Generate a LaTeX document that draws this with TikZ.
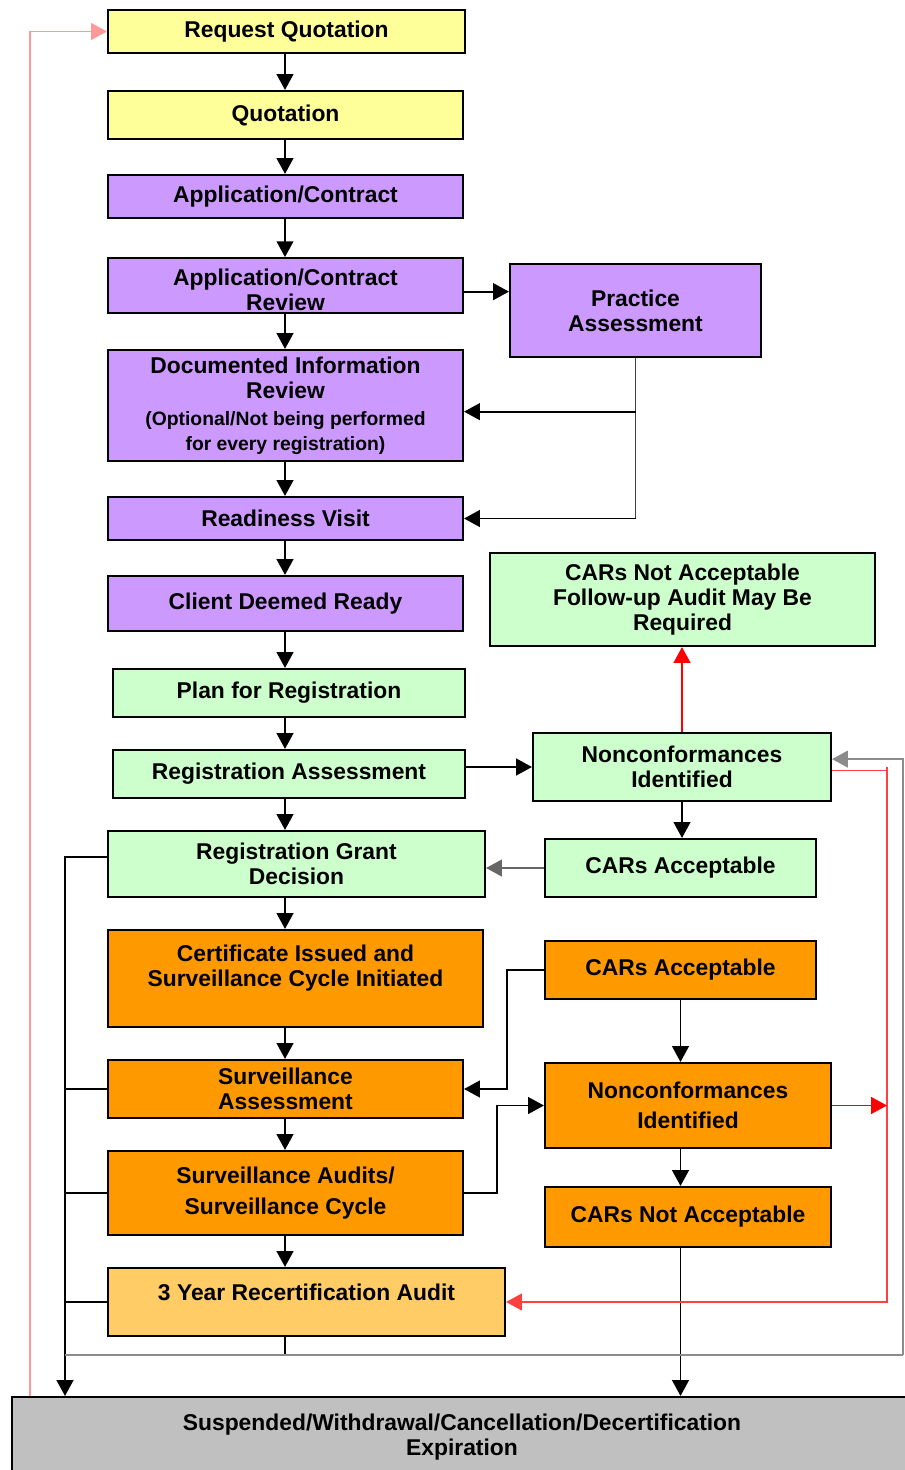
\documentclass[tikz,border=0pt]{standalone}
\usepackage{fontspec}
\setmainfont{Liberation Sans}
\usetikzlibrary{arrows.meta}

\definecolor{quoteyellow}{HTML}{FFFF99}
\definecolor{contractpurple}{HTML}{CC99FF}
\definecolor{regreen}{HTML}{CCFFCC}
\definecolor{survorange}{HTML}{FF9900}
\definecolor{recertorange}{HTML}{FFCC66}
\definecolor{endgray}{HTML}{C0C0C0}

\begin{document}
\begin{tikzpicture}[x=0.02cm, y=-0.02cm,
    box/.style={rectangle, draw, line width=1.2pt, align=center, inner sep=1pt,
        font=\bfseries\fontsize{13}{14.2}\selectfont},
    arrow/.style={-{Triangle[length=9pt, width=9.5pt]}, line width=1.1pt},
    plain/.style={line width=1.1pt},
    redarrow/.style={arrow, red},
    grayline/.style={line width=1.1pt, black!45}]

    \useasboundingbox (0,0) rectangle (904,1470);

    % main column
    \node[box, fill=quoteyellow, minimum width=7.14cm, minimum height=0.86cm] (rq) at (286.5,31.5) {Request Quotation};
    \node[box, fill=quoteyellow, minimum width=7.10cm, minimum height=0.96cm] (quo) at (285.5,115) {Quotation};
    \node[box, fill=contractpurple, minimum width=7.10cm, minimum height=0.86cm] (app) at (285.5,196.5) {Application/Contract};
    \node[box, fill=contractpurple, minimum width=7.10cm, minimum height=1.06cm, text height=29pt] (apprev) at (285.5,285.5) {Application/Contract\\Review};
    \node[box, fill=contractpurple, minimum width=7.10cm, minimum height=2.22cm] (docrev) at (285.5,405.5)
        {Documented Information\\Review\\[1pt]{\fontsize{11}{13}\selectfont (Optional/Not being performed}\\{\fontsize{11}{13}\selectfont for every registration)}};
    \node[box, fill=contractpurple, minimum width=7.10cm, minimum height=0.86cm] (ready) at (285.5,518.5) {Readiness Visit};
    \node[box, fill=contractpurple, minimum width=7.10cm, minimum height=1.10cm] (client) at (285.5,603.5) {Client Deemed Ready};
    \node[box, fill=regreen, minimum width=7.04cm, minimum height=0.96cm] (plan) at (289,693) {Plan for Registration};
    \node[box, fill=regreen, minimum width=7.04cm, minimum height=0.96cm] (regass) at (289,774) {Registration Assessment};
    \node[box, fill=regreen, minimum width=7.54cm, minimum height=1.32cm] (grant) at (296.5,864) {Registration Grant\\Decision};
    \node[box, fill=survorange, minimum width=7.50cm, minimum height=1.94cm, text depth=15pt] (cert) at (295.5,978.5)
        {Certificate Issued and\\Surveillance Cycle Initiated};
    \node[box, fill=survorange, minimum width=7.10cm, minimum height=1.16cm] (survass) at (285.5,1089) {Surveillance\\Assessment};
    \node[box, fill=survorange, minimum width=7.10cm, minimum height=1.68cm] (survaud) at (285.5,1193) {Surveillance Audits/\\[3pt]Surveillance Cycle};
    \node[box, fill=recertorange, minimum width=7.94cm, minimum height=1.36cm, text depth=11.5pt] (recert) at (306.5,1302) {3 Year Recertification Audit};
    \node[box, fill=endgray, minimum width=18cm, minimum height=1.6cm] (susp) at (462,1437)
        {Suspended/Withdrawal/Cancellation/Decertification\\Expiration};

    % side boxes
    \node[box, fill=contractpurple, minimum width=5.02cm, minimum height=1.86cm] (prac) at (635.5,310.5) {Practice\\Assessment};
    \node[box, fill=regreen, minimum width=7.70cm, minimum height=1.86cm] (cna1) at (682.5,599.5) {CARs Not Acceptable\\Follow-up Audit May Be\\Required};
    \node[box, fill=regreen, minimum width=5.96cm, minimum height=1.36cm] (nc1) at (682,767) {Nonconformances\\Identified};
    \node[box, fill=regreen, minimum width=5.42cm, minimum height=1.16cm] (ca1) at (680.5,868) {CARs Acceptable};
    \node[box, fill=survorange, minimum width=5.42cm, minimum height=1.16cm] (ca2) at (680.5,970) {CARs Acceptable};
    \node[box, fill=survorange, minimum width=5.72cm, minimum height=1.70cm] (nc2) at (688,1105.5) {Nonconformances\\[3pt]Identified};
    \node[box, fill=survorange, minimum width=5.72cm, minimum height=1.20cm] (cna2) at (688,1217) {CARs Not Acceptable};

    % rails
    \coordinate (spine) at (285,0);
    \coordinate (leftrail) at (65,0);
    \coordinate (redrail) at (30,0);
    \coordinate (redside) at (887,0);
    \coordinate (grayloop) at (903,1355);

    % main flow
    \draw[arrow] (rq.south -| spine) -- (quo.north -| spine);
    \draw[arrow] (quo.south -| spine) -- (app.north -| spine);
    \draw[arrow] (app.south -| spine) -- (apprev.north -| spine);
    \draw[arrow] (apprev.south -| spine) -- (docrev.north -| spine);
    \draw[arrow] (docrev.south -| spine) -- (ready.north -| spine);
    \draw[arrow] (ready.south -| spine) -- (client.north -| spine);
    \draw[arrow] (client.south -| spine) -- (plan.north -| spine);
    \draw[arrow] (plan.south -| spine) -- (regass.north -| spine);
    \draw[arrow] (regass.south -| spine) -- (grant.north -| spine);
    \draw[arrow] (grant.south -| spine) -- (cert.north -| spine);
    \draw[arrow] (cert.south -| spine) -- (survass.north -| spine);
    \draw[arrow] (survass.south -| spine) -- (survaud.north -| spine);
    \draw[arrow] (survaud.south -| spine) -- (recert.north -| spine);

    % practice assessment
    \draw[arrow] ([yshift=-3.5pt]apprev.east) -- ([yshift=-3.5pt]apprev.east -| prac.west);
    \draw[plain, black!75] (prac.south) -- (prac.south |- ready.east);
    \draw[arrow] ([yshift=-3.5pt]docrev.east -| prac.south) -- ([yshift=-3.5pt]docrev.east);
    \draw[arrow] (prac.south |- ready.east) -- (ready.east);

    % registration loop
    \draw[arrow] (regass.east |- nc1.west) -- (nc1.west);
    \draw[redarrow] (nc1.north) -- (nc1.north |- cna1.south);
    \draw[arrow] (nc1.south) -- (nc1.south |- ca1.north);
    \draw[arrow, black!60] (ca1.west) -- (ca1.west -| grant.east);

    % surveillance loop
    \draw[arrow] (ca2.west) -- ++(-37,0) |- (survass.east);
    \draw[arrow] (survaud.east) -- ++(33,0) |- (nc2.west);
    \draw[arrow] (ca2.south) -- (ca2.south |- nc2.north);
    \draw[arrow] (nc2.south -| ca2.south) -- (ca2.south |- cna2.north);
    \draw[arrow] (cna2.south -| ca2.south) -- (ca2.south |- susp.north);

    % red returns
    \draw[redarrow, red!75] ([yshift=-2pt]nc1.east) -| (redside |- nc1.east) -- (redside |- recert.east) -- (recert.east);
    \draw[redarrow] (nc2.east) -- (nc2.east -| redside);
    \draw[redarrow, red!40] (susp.north -| redrail) -- (redrail |- rq.west) -- (rq.west);

    % exits to suspension
    \draw[arrow] ([yshift=4pt]grant.west) -- ([yshift=4pt]grant.west -| leftrail) -- (leftrail |- susp.north);
    \draw[plain] (survass.west) -- (survass.west -| leftrail);
    \draw[plain] (survaud.west) -- (survaud.west -| leftrail);
    \draw[plain] (recert.west) -- (recert.west -| leftrail);
    \draw[plain] (recert.south -| spine) -- (spine |- grayloop);
    \draw[grayline] (leftrail |- grayloop) -- (grayloop);
    \draw[arrow, black!45] (grayloop) -- ([yshift=4.5pt]nc1.east -| grayloop) -- ([yshift=4.5pt]nc1.east);
\end{tikzpicture}
\end{document}
